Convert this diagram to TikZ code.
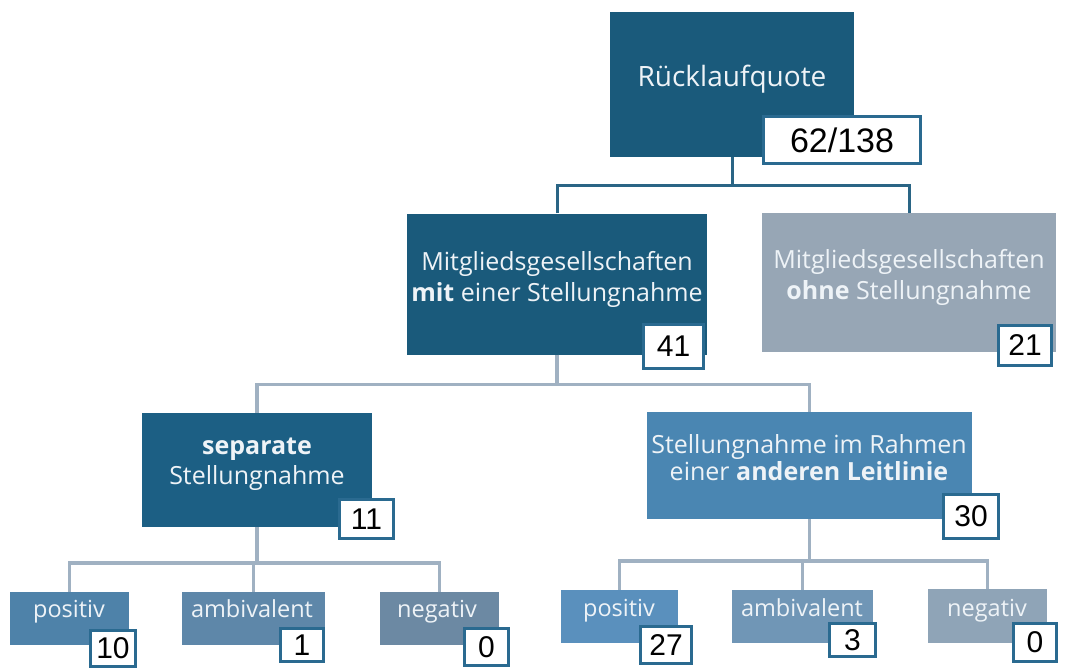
\documentclass[tikz,border=0pt]{standalone}
\usepackage{fontspec}
\setmainfont{Open Sans}
\newfontfamily\numfont{Liberation Sans}
\definecolor{dkblue}{HTML}{1A5A7B}
\definecolor{sepblue}{HTML}{1C5F84}
\definecolor{ohnegray}{HTML}{97A6B5}
\definecolor{rahmenblue}{HTML}{4A86B2}
\definecolor{pL}{HTML}{4E82A9}
\definecolor{aL}{HTML}{5E87A9}
\definecolor{nL}{HTML}{6C89A3}
\definecolor{pR}{HTML}{5A90BD}
\definecolor{aR}{HTML}{7096B6}
\definecolor{nR}{HTML}{8FA4B7}
\definecolor{connA}{HTML}{2A6585}
\definecolor{connB}{HTML}{A0B1C2}
\definecolor{numline}{HTML}{2A6A90}
\definecolor{txtw}{HTML}{EEF3F7}
\begin{document}
\begin{tikzpicture}[x=1pt,y=-1pt,
  boxA/.style={rectangle, inner sep=0pt, draw=none},
  numbox/.style={rectangle, inner sep=0pt, draw=numline, line width=2.5pt, fill=white, text=black,
     font=\numfont\fontsize{30}{34}\selectfont},
  tTop/.style={inner sep=0pt, anchor=base, text=txtw, font=\fontsize{28}{32}\selectfont},
  tMid/.style={inner sep=0pt, anchor=base, text=txtw, font=\fontsize{25}{29}\selectfont},
  tLow/.style={inner sep=0pt, anchor=base, text=txtw, font=\fontsize{23.5}{27}\selectfont},
  cA/.style={draw=connA, line width=3pt},
  cB/.style={draw=connB, line width=3.5pt}
]
\useasboundingbox (0,0) rectangle (1065,669);

% boxes
\node[boxA, fill=dkblue, minimum width=244pt, minimum height=145pt] (top) at (732,84.5) {};
\node[boxA, fill=dkblue, minimum width=300pt, minimum height=141pt] (mit) at (557,284) {};
\node[boxA, fill=ohnegray, minimum width=294pt, minimum height=139pt] (ohne) at (909,282.5) {};
\node[boxA, fill=sepblue, minimum width=230pt, minimum height=114pt] (sep) at (257,470) {};
\node[boxA, fill=rahmenblue, minimum width=325pt, minimum height=107pt] (rah) at (809.5,465.5) {};
\node[boxA, fill=pL, minimum width=119pt, minimum height=53pt] (posL) at (69.5,618.5) {};
\node[boxA, fill=aL, minimum width=143pt, minimum height=53pt] (ambL) at (253.5,618.5) {};
\node[boxA, fill=nL, minimum width=119pt, minimum height=53pt] (negL) at (439.5,618.5) {};
\node[boxA, fill=pR, minimum width=117pt, minimum height=53pt] (posR) at (619.5,616.5) {};
\node[boxA, fill=aR, minimum width=141pt, minimum height=53pt] (ambR) at (802.5,616.5) {};
\node[boxA, fill=nR, minimum width=119pt, minimum height=54pt] (negR) at (987.5,616) {};

% connectors
\draw[cA] (top.south) -- ++(0,28) coordinate (j1);
\draw[cA] (mit.north) |- (j1) -| (ohne.north);
\draw[cB] (mit.south) -- ++(0,30) coordinate (j2);
\draw[cB] (sep.north) |- (j2) -| (rah.north);
\draw[cB] (sep.south) -- ++(0,36) coordinate (j3);
\draw[cB] (posL.north) |- (j3) -| (negL.north);
\draw[cB] (ambL.north) -- (ambL.north |- j3);
\draw[cB] (rah.south) -- ++(0,42) coordinate (j4);
\draw[cB] (posR.north) |- (j4) -| (negR.north);
\draw[cB] (ambR.north) -- (ambR.north |- j4);

% texts
\node[tTop] (topT) at (732,86) {Rücklaufquote};
\node[tMid] (mitT1) at (557,270) {Mitgliedsgesellschaften};
\node[tMid] (mitT2) at (557,301) {\textbf{mit} einer Stellungnahme};
\node[tMid] (ohneT1) at (909,268) {Mitgliedsgesellschaften};
\node[tMid] (ohneT2) at (909,299) {\textbf{ohne} Stellungnahme};
\node[tMid] (sepT1) at (257,454) {\textbf{separate}};
\node[tMid] (sepT2) at (257,484) {Stellungnahme};
\node[tMid] (rahT1) at (809,453) {Stellungnahme im Rahmen};
\node[tMid] (rahT2) at (809,480) {einer \textbf{anderen Leitlinie}};
\node[tLow] (posLT) at (69,617) {positiv};
\node[tLow] (ambLT) at (252,617) {ambivalent};
\node[tLow] (negLT) at (437,617) {negativ};
\node[tLow] (posRT) at (619,616) {positiv};
\node[tLow] (ambRT) at (802,616) {ambivalent};
\node[tLow] (negRT) at (987,616) {negativ};

% number boxes
\node[numbox, font=\numfont\fontsize{34}{38}\selectfont, minimum width=157pt, minimum height=47pt] (nTop) at (842,140) {62/138};
\node[numbox, minimum width=60pt, minimum height=44pt] (nMit) at (673.5,346.5) {41};
\node[numbox, minimum width=53pt, minimum height=40pt] (nOhne) at (1025,345.5) {21};
\node[numbox, minimum width=54pt, minimum height=39pt] (nSep) at (366.5,519) {11};
\node[numbox, minimum width=55pt, minimum height=44pt] (nRah) at (971,516.5) {30};
\node[numbox, minimum width=45pt, minimum height=36pt] (nPosL) at (113,648.5) {10};
\node[numbox, minimum width=43pt, minimum height=33pt] (nAmbL) at (302,645) {1};
\node[numbox, minimum width=44pt, minimum height=37pt] (nNegL) at (486.5,647) {0};
\node[numbox, minimum width=51pt, minimum height=37pt] (nPosR) at (666,645) {27};
\node[numbox, minimum width=46pt, minimum height=33pt] (nAmbR) at (852.5,640) {3};
\node[numbox, minimum width=43pt, minimum height=38pt] (nNegR) at (1035,642.5) {0};
\end{tikzpicture}
\end{document}
